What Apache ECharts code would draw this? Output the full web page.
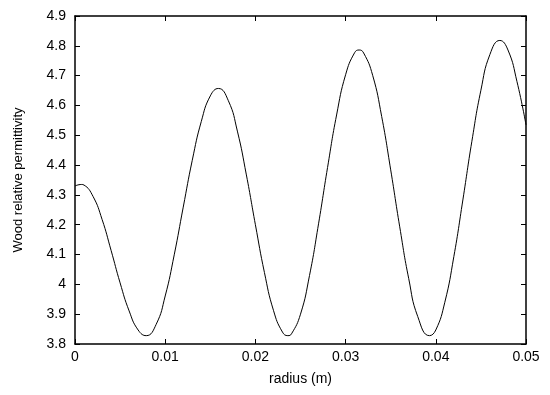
<!DOCTYPE html>
<html>
<head>
<meta charset="utf-8">
<script src="https://cdn.jsdelivr.net/npm/echarts@6/dist/echarts.min.js"></script>
<style>
  html, body { margin: 0; padding: 0; background: #fff; }
  #chart { width: 550px; height: 395px; }
</style>
</head>
<body>
<div id="chart"></div>
<script>
// values
let radius = [
    0, 0.0007, 0.001, 0.002, 0.003, 0.004, 0.005, 0.006, 0.007, 0.0079,
    0.009, 0.010, 0.011, 0.012, 0.013, 0.014, 0.015, 0.0159,
    0.017, 0.018, 0.019, 0.020, 0.021, 0.022, 0.023, 0.0236,
    0.024, 0.025, 0.026, 0.027, 0.028, 0.029, 0.030, 0.031, 0.0315,
    0.032, 0.033, 0.034, 0.035, 0.036, 0.037, 0.038, 0.0393,
    0.040, 0.041, 0.042, 0.043, 0.044, 0.045, 0.046, 0.0471,
    0.048, 0.049, 0.050
];
let permittivity = [
    4.330, 4.335, 4.333, 4.295, 4.218, 4.114, 4.005, 3.911, 3.847, 3.828,
    3.866, 3.961, 4.099, 4.259, 4.416, 4.546, 4.632, 4.657,
    4.616, 4.514, 4.367, 4.200, 4.040, 3.913, 3.840, 3.828,
    3.834, 3.900, 4.030, 4.203, 4.392, 4.568, 4.703, 4.777, 4.786,
    4.776, 4.701, 4.563, 4.384, 4.193, 4.019, 3.892, 3.828,
    3.847, 3.940, 4.093, 4.283, 4.480, 4.651, 4.771, 4.818,
    4.786, 4.680, 4.535
];

let fontName = 'Liberation Sans';
let axisLineStyle = { color: '#000', width: 1.5 };

let points = radius.map(function (r, i) { return [r, permittivity[i]]; });

let myChart = echarts.init(document.getElementById('chart'));
let option = {
    backgroundColor: '#fff',
    animation: false,
    grid: { left: 75, right: 24, top: 16, bottom: 51 },
    xAxis: [
        {
            type: 'value', min: 0, max: 0.05, interval: 0.01,
            position: 'bottom',
            name: 'radius (m)', nameLocation: 'middle', nameGap: 28,
            nameTextStyle: { color: '#000', fontSize: 14, fontFamily: fontName },
            axisLine: { show: true, onZero: false, lineStyle: axisLineStyle },
            axisTick: { show: true, inside: true, length: 5, lineStyle: { color: '#000' } },
            axisLabel: {
                color: '#000', fontSize: 14, fontFamily: fontName, margin: 6,
                formatter: function (v) { return String(+v.toFixed(3)); }
            },
            splitLine: { show: false }
        },
        {
            type: 'value', min: 0, max: 0.05, interval: 0.01,
            position: 'top',
            axisLine: { show: true, onZero: false, lineStyle: axisLineStyle },
            axisTick: { show: true, inside: true, length: 5, lineStyle: { color: '#000' } },
            axisLabel: { show: false },
            splitLine: { show: false }
        }
    ],
    yAxis: [
        {
            type: 'value', min: 3.8, max: 4.9, interval: 0.1,
            position: 'left',
            name: 'Wood relative permittivity', nameLocation: 'middle', nameGap: 50,
            nameTextStyle: { color: '#000', fontSize: 13, fontFamily: fontName },
            axisLine: { show: true, onZero: false, lineStyle: axisLineStyle },
            axisTick: { show: true, inside: true, length: 5, lineStyle: { color: '#000' } },
            axisLabel: {
                color: '#000', fontSize: 14, fontFamily: fontName, margin: 9,
                formatter: function (v) { return String(+v.toFixed(2)); }
            },
            splitLine: { show: false }
        },
        {
            type: 'value', min: 3.8, max: 4.9, interval: 0.1,
            position: 'right',
            axisLine: { show: true, onZero: false, lineStyle: axisLineStyle },
            axisTick: { show: true, inside: true, length: 5, lineStyle: { color: '#000' } },
            axisLabel: { show: false },
            splitLine: { show: false }
        }
    ],
    series: [
        {
            type: 'line',
            xAxisIndex: 0,
            yAxisIndex: 0,
            data: points,
            smooth: 0.5,
            showSymbol: false,
            lineStyle: { color: '#000', width: 1 }
        }
    ]
};
myChart.setOption(option);
</script>
</body>
</html>
